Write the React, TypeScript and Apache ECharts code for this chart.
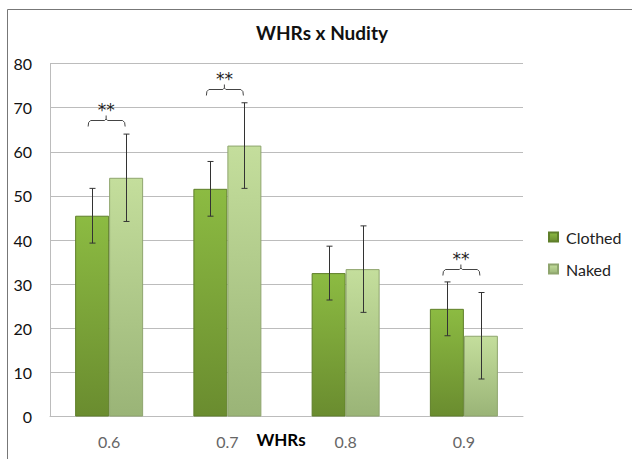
import React, { useEffect, useRef } from "react";
import * as echarts from "echarts";

const categories = ["0.6", "0.7", "0.8", "0.9"];
const clothed = [45.5, 51.6, 32.5, 24.4];
const naked = [54.1, 61.4, 33.4, 18.3];
const clothedErr = [6.2, 6.2, 6.1, 6.1];
const nakedErr = [9.9, 9.7, 9.8, 9.8];
const sigIndex = [0, 1, 3];
const sigLevel = [67.3, 74.2, 33.4];
const sigLabel = ["**", "**", "**"];
const yTicks = [0, 10, 20, 30, 40, 50, 60, 70, 80];

const BAR_W = 34;
const FONT = "Lato, 'Liberation Sans', sans-serif";

function errorRenderer(offset: number) {
  return (params: any, api: any) => {
    const i = api.value(0);
    const v = api.value(1);
    const e = api.value(2);
    const top = api.coord([i, v + e]);
    const bot = api.coord([i, v - e]);
    const x = Math.round(top[0] + offset) + 0.5;
    const cap = 3;
    const st = { stroke: "#333", lineWidth: 1 };
    return {
      type: "group",
      children: [
        { type: "line", shape: { x1: x, y1: top[1], x2: x, y2: bot[1] }, style: st },
        { type: "line", shape: { x1: x - cap, y1: top[1], x2: x + cap, y2: top[1] }, style: st },
        { type: "line", shape: { x1: x - cap, y1: bot[1], x2: x + cap, y2: bot[1] }, style: st },
      ],
    };
  };
}

function bracketRenderer(params: any, api: any) {
  const i = api.value(0);
  const lvl = api.value(1);
  const p = api.coord([i, lvl]);
  const cx = p[0];
  const y = Math.round(p[1]) + 0.5;
  const x1 = cx - 21;
  const x2 = cx + 16;
  const xm = cx - 3;
  const st = { stroke: "#444", lineWidth: 1, fill: "none" };
  return {
    type: "group",
    children: [
      {
        type: "polyline",
        shape: {
          points: [
            [x1, y + 6], [x1 + 0.5, y + 2], [x1 + 2.5, y], [xm - 1.5, y], [xm, y - 1.5],
          ],
        },
        style: st,
      },
      {
        type: "polyline",
        shape: {
          points: [
            [xm, y - 1.5], [xm + 1.5, y], [x2 - 2.5, y], [x2 - 0.5, y + 2], [x2, y + 6],
          ],
        },
        style: st,
      },
      { type: "line", shape: { x1: xm, y1: y - 5, x2: xm, y2: y - 1.5 }, style: st },
      {
        type: "text",
        style: {
          x: xm,
          y: y - 11,
          text: sigLabel[params.dataIndex],
          fill: "#222",
          font: "17px 'DejaVu Sans', sans-serif",
          textAlign: "center",
          textVerticalAlign: "middle",
        },
      },
    ],
  };
}

export default function App() {
  const ref = useRef<HTMLDivElement>(null);
  useEffect(() => {
    if (!ref.current) return;
    const chart = echarts.init(ref.current, null, { renderer: "svg" });
    const clothedColor = new echarts.graphic.LinearGradient(0, 0, 0, 1, [
      { offset: 0, color: "#8cbb42" },
      { offset: 1, color: "#6a8c2f" },
    ]);
    const nakedColor = new echarts.graphic.LinearGradient(0, 0, 0, 1, [
      { offset: 0, color: "#c4de9c" },
      { offset: 1, color: "#9ab477" },
    ]);
    chart.setOption({
      animation: false,
      backgroundColor: "#ffffff",
      textStyle: { fontFamily: FONT },
      grid: { left: 50, right: 109, top: 63.5, bottom: 42.5, containLabel: false },
      legend: {
        data: ["Clothed", "Naked"],
        orient: "vertical",
        left: 543,
        top: 224,
        itemWidth: 9,
        itemHeight: 9,
        itemGap: 16,
        icon: "rect",
        textStyle: { fontSize: 16, color: "#222", fontFamily: FONT, padding: [0, 0, 0, 3] },
      },
      xAxis: {
        type: "category",
        data: categories,
        axisLine: { lineStyle: { color: "#bcbcbc", width: 1 } },
        axisTick: { show: false },
        axisLabel: { color: "#666", fontSize: 16, margin: 17, fontFamily: FONT },
      },
      yAxis: {
        type: "value",
        min: yTicks[0],
        max: yTicks[yTicks.length - 1],
        interval: 10,
        axisLine: { show: true, lineStyle: { color: "#bcbcbc", width: 1 } },
        axisTick: { show: false },
        splitLine: { lineStyle: { color: "#bcbcbc", width: 1 } },
        axisLabel: { color: "#111", fontSize: 16, margin: 18, fontFamily: FONT },
      },
      series: [
        {
          name: "Clothed",
          type: "bar",
          data: clothed,
          barWidth: BAR_W,
          barGap: "0%",
          itemStyle: { color: clothedColor, borderColor: "#5f7f2a", borderWidth: 1 },
        },
        {
          name: "Naked",
          type: "bar",
          data: naked,
          barWidth: BAR_W,
          itemStyle: { color: nakedColor, borderColor: "#8fa56e", borderWidth: 1 },
        },
        {
          name: "errClothed",
          type: "custom",
          renderItem: errorRenderer(-BAR_W / 2),
          data: clothed.map((v, i) => [i, v, clothedErr[i]]),
          encode: { x: 0, y: 1 },
          itemStyle: { color: "#333" },
          z: 10,
          silent: true,
        },
        {
          name: "errNaked",
          type: "custom",
          renderItem: errorRenderer(BAR_W / 2),
          data: naked.map((v, i) => [i, v, nakedErr[i]]),
          encode: { x: 0, y: 1 },
          itemStyle: { color: "#333" },
          z: 10,
          silent: true,
        },
        {
          name: "sig",
          type: "custom",
          renderItem: bracketRenderer,
          data: sigIndex.map((c, k) => [c, sigLevel[k]]),
          encode: { x: 0, y: 1 },
          itemStyle: { color: "#222" },
          z: 10,
          silent: true,
        },
      ],
      graphic: [
        {
          type: "rect",
          shape: { x: 7.5, y: 9.5, width: 700, height: 500 },
          style: { fill: "none", stroke: "#777", lineWidth: 1 },
          silent: true,
          z: -1,
        },
        {
          type: "text",
          x: 322,
          y: 32,
          style: {
            text: "WHRs x Nudity",
            font: `bold 19px ${FONT}`,
            fill: "#111",
            textAlign: "center",
            textVerticalAlign: "middle",
          },
        },
        {
          type: "text",
          x: 281,
          y: 439,
          style: {
            text: "WHRs",
            font: `bold 17px ${FONT}`,
            fill: "#000",
            textAlign: "center",
            textVerticalAlign: "middle",
          },
        },
      ],
    });
    return () => chart.dispose();
  }, []);
  return (
    <div
      ref={ref}
      style={{ position: "fixed", left: 0, top: 0, width: 632, height: 459 }}
    />
  );
}
